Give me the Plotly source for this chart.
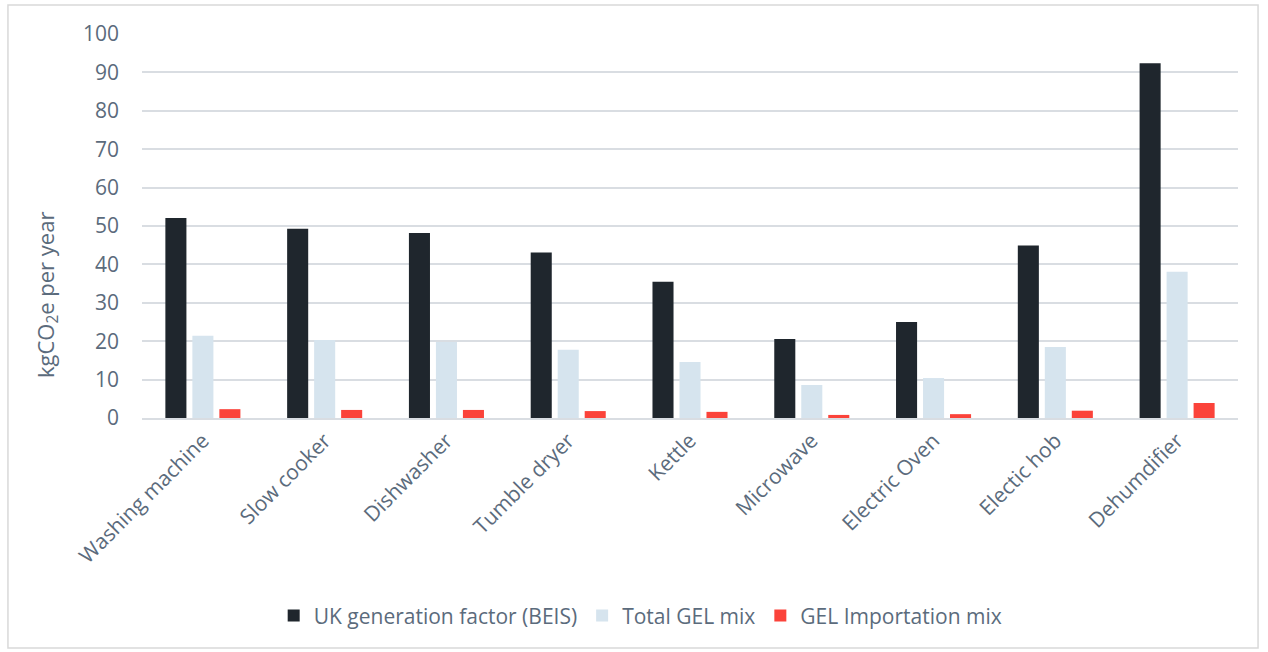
import plotly.graph_objects as go

categories = ["Washing machine", "Slow cooker", "Dishwasher", "Tumble dryer", "Kettle",
              "Microwave", "Electric Oven", "Electic hob", "Dehumdifier"]
uk_beis = [52.1, 49.3, 48.2, 43.1, 35.5, 20.6, 25.0, 44.9, 92.4]
total_gel = [21.4, 20.3, 19.8, 17.8, 14.6, 8.6, 10.4, 18.5, 38.1]
gel_import = [2.3, 2.1, 2.1, 1.8, 1.6, 0.8, 1.0, 1.9, 3.9]
y_ticks = [0, 10, 20, 30, 40, 50, 60, 70, 80, 90, 100]
y_title = "kgCO<sub>2</sub>e per year"

txt = "#5b6b7c"
font = "Open Sans"

fig = go.Figure()
fig.add_trace(go.Bar(x=categories, y=uk_beis, name="UK generation factor (BEIS)",
                     marker=dict(color="#1f262d", line=dict(width=0))))
fig.add_trace(go.Bar(x=categories, y=total_gel, name="Total GEL mix",
                     marker=dict(color="#d6e4ee", line=dict(width=0))))
fig.add_trace(go.Bar(x=categories, y=gel_import, name="GEL Importation mix",
                     marker=dict(color="#fb433a", line=dict(width=0))))

fig.update_layout(
    width=1268, height=652,
    margin=dict(l=142, r=30, t=34, b=234),
    paper_bgcolor="white", plot_bgcolor="white",
    barmode="group", bargap=0.335, bargroupgap=0.22,
    font=dict(family=font, color=txt, size=18),
    showlegend=True,
    legend=dict(orientation="h", x=0.455, xanchor="center", y=-0.515, yanchor="middle",
                font=dict(size=21, color=txt), itemsizing="constant", itemwidth=30),
    xaxis=dict(tickangle=-45, tickfont=dict(size=21, color=txt), showgrid=False,
               showline=True, linecolor="#d9dde2", linewidth=2, ticks=""),
    yaxis=dict(range=[0, 100], tickvals=y_ticks, showgrid=True, gridcolor="#d9dde2",
               gridwidth=1.5, zeroline=False, tickfont=dict(size=21, color=txt),
               ticklabelstandoff=22),
    annotations=[dict(text=y_title, xref="paper", yref="paper", x=-0.0867, y=0.32,
                      xanchor="center", yanchor="middle", textangle=-90, showarrow=False,
                      font=dict(size=22, color=txt))],
    shapes=[dict(type="rect", xref="paper", yref="paper",
                 x0=-0.1223, x1=1.0183, y0=-0.599, y1=1.0755,
                 line=dict(color="#d9d9d9", width=1.5), fillcolor="rgba(0,0,0,0)")],
)

fig.write_html("out.html")
